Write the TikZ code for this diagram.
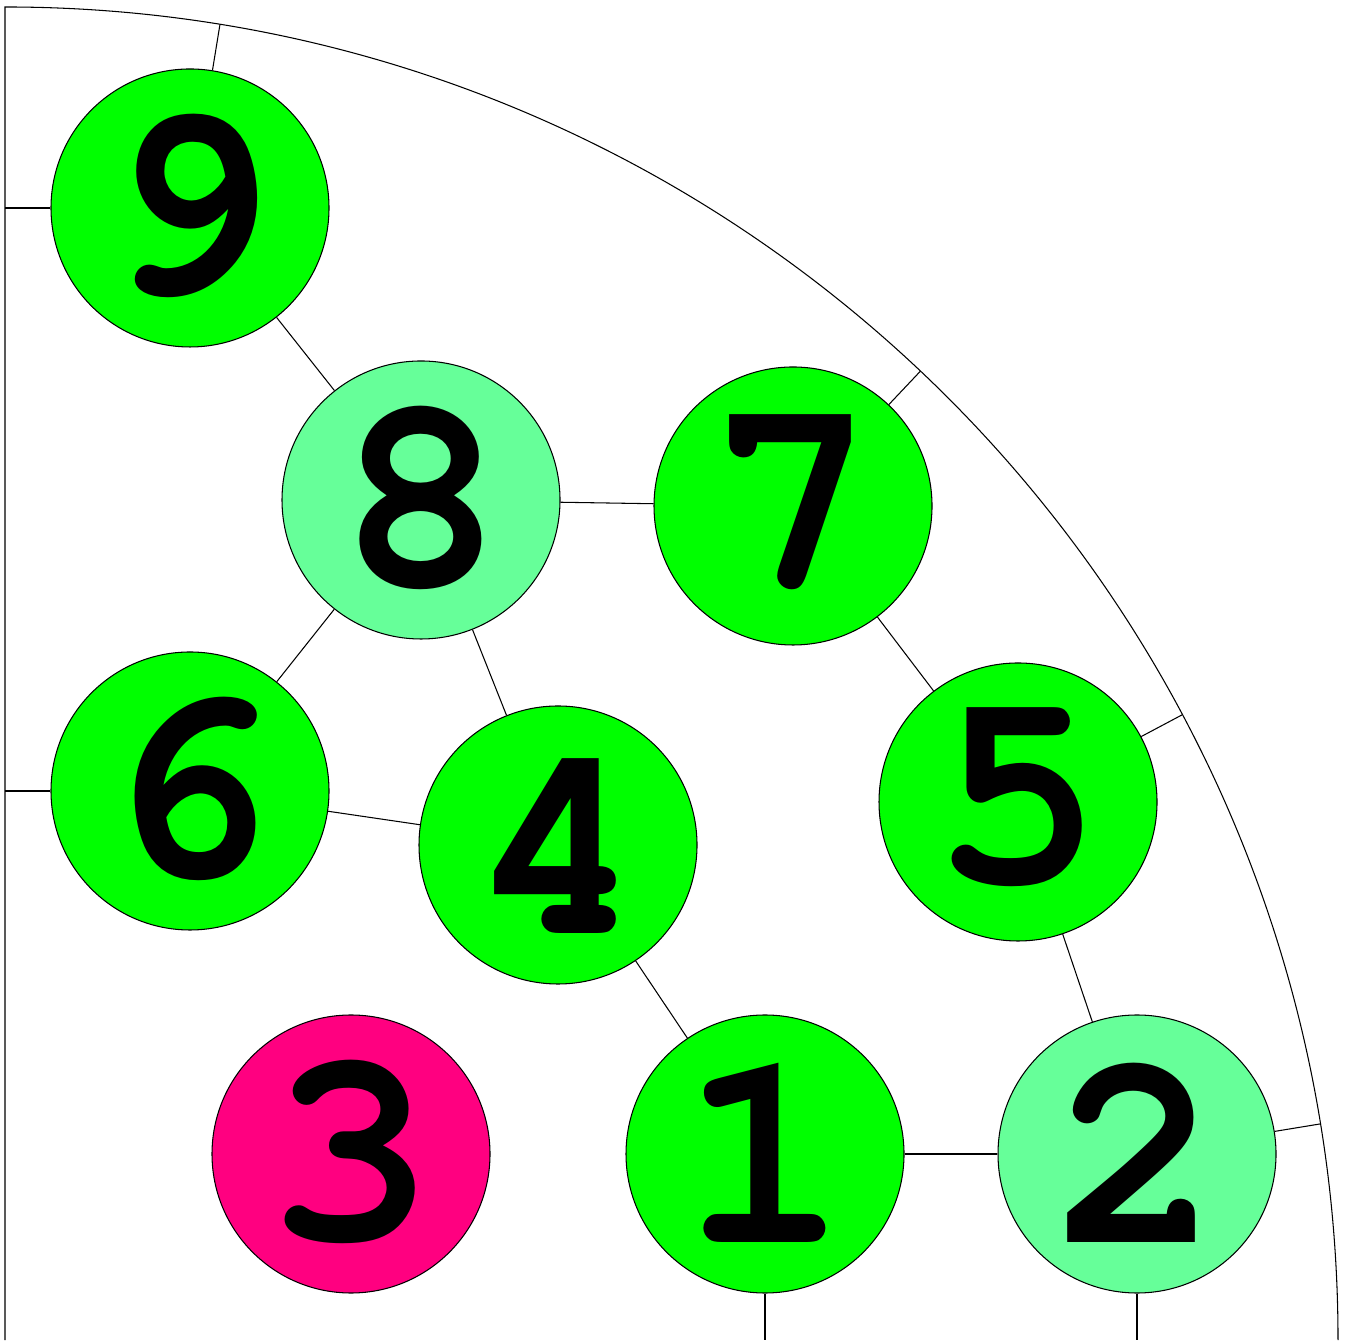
\documentclass[tikz,border=0pt]{standalone}
\usepackage[T1]{fontenc}
\usetikzlibrary{calc}
\definecolor{brightgreen}{HTML}{00FF00}
\definecolor{palegreen}{HTML}{66FF99}
\definecolor{hotpink}{HTML}{FF0080}

\begin{document}
\begin{tikzpicture}[
  line width=0.3pt,
  disc/.style={circle, draw, fill=#1, minimum size=2.78cm, inner sep=0pt,
               font=\fontfamily{pcr}\fontseries{b}\fontsize{80}{80}\selectfont},
  disc/.default=brightgreen]
\useasboundingbox (0,0) rectangle (13.46,13.40);
\coordinate (O) at (0.05,0);
% frame: wall and quarter arc
\draw (O) -- (0.05,13.33) arc[start angle=90, end angle=0, radius=13.33];
% discs
\node[disc] (n9) at (1.90,11.32) {9};
\node[disc=palegreen] (n8) at (4.21,8.40) {8};
\node[disc] (n7) at (7.93,8.34) {7};
\node[disc] (n6) at (1.90,5.49) {6};
\node[disc] (n4) at (5.58,4.95) {4};
\node[disc] (n5) at (10.18,5.38) {5};
\node[disc=hotpink] (n3) at (3.51,1.86) {3};
\node[disc] (n1) at (7.65,1.86) {1};
\node[disc=palegreen] (n2) at (11.37,1.86) {2};
\coordinate (w9) at (0.05,11.32);
\coordinate (w6) at (0.05,5.49);
\coordinate (b1) at (7.65,0);
\coordinate (b2) at (11.37,0);
\foreach \n in {n9,n7,n5,n2}
  \coordinate (a\n) at ($(O)!13.33cm!(\n)$);
% links
\draw (n9) -- (n8);
\draw (n8) -- (n7);
\draw (n8) -- (n6);
\draw (n8) -- (n4);
\draw (n6) -- (n4);
\draw (n4) -- (n1);
\draw (n7) -- (n5);
\draw (n5) -- (n2);
\draw (n1) -- (n2);
\draw (n9) -- (w9);
\draw (n6) -- (w6);
\draw (n1) -- (b1);
\draw (n2) -- (b2);
\foreach \n in {n9,n7,n5,n2}
  \draw (\n) -- (a\n);
\end{tikzpicture}
\end{document}
